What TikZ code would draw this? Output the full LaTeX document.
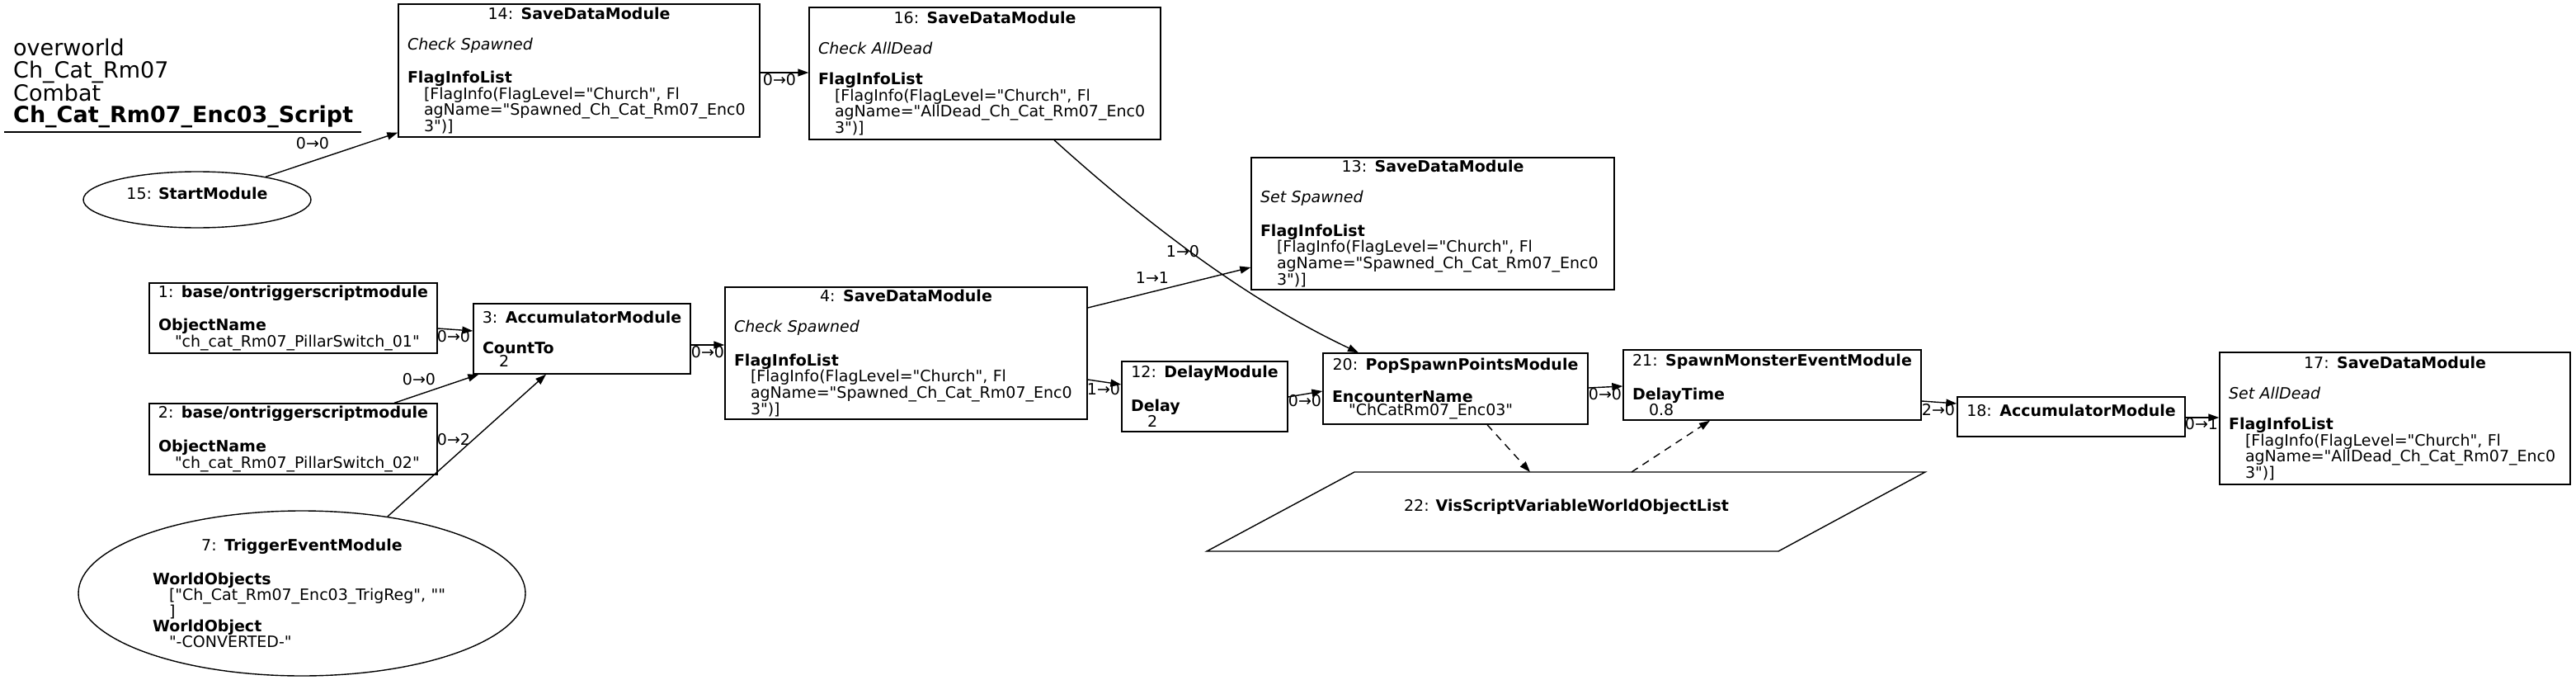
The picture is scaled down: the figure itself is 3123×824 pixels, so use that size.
\documentclass[tikz,border=0pt]{standalone}
\usepackage{fontspec}
\setmainfont{DejaVu Sans}[Ligatures=TeXOff]
\usetikzlibrary{arrows.meta,shapes.geometric}
\newcommand{\modhead}[2]{\makebox[\linewidth][c]{#1: \textbf{#2}}}
\newcommand{\valind}{\hspace*{20pt}}

\begin{document}
\begin{tikzpicture}[x=1pt, y=-1pt,
  module/.style={draw, line width=1.4pt, rectangle, inner xsep=11pt, inner ysep=2pt, align=left, font=\fontsize{19}{16}\selectfont},
  startnode/.style={draw, line width=1.4pt, ellipse, inner sep=0pt, align=center, font=\fontsize{19}{16}\selectfont},
  plain/.style={inner sep=0pt, align=center, font=\fontsize{19}{16}\selectfont},
  elabel/.style={inner sep=0pt, font=\fontsize{19}{16}\selectfont},
  arr/.style={-{Triangle[length=13pt,width=9pt]}, line width=1.4pt},
  varlink/.style={arr, dash pattern=on 9pt off 7pt}
]
  \useasboundingbox (0,0) rectangle (3123,824);

  \node[anchor=north west, inner sep=0pt, align=left, font=\fontsize{27}{26.5}\selectfont] (graphtitle) at (16,47)
    {overworld\\Ch\_Cat\_Rm07\\Combat\\\textbf{Ch\_Cat\_Rm07\_Enc03\_Script}};
  \draw[line width=1.4pt] (5,160) -- (438,160);

  \node[startnode, minimum width=276pt, minimum height=68pt] (n15) at (239,242) {15: \textbf{StartModule}\\~};
  \node[module, text width=416pt, minimum height=161pt] (n14) at (702,85.5) {\modhead{14}{SaveDataModule}\\[21pt]
    \textit{Check Spawned}\\[21pt]
    \textbf{FlagInfoList}\\
    \valind[FlagInfo(FlagLevel="Church", Fl\\
    \valind agName="Spawned\_Ch\_Cat\_Rm07\_Enc0\\
    \valind 3")]};
  \node[module, text width=404pt, minimum height=160pt] (n16) at (1194,89) {\modhead{16}{SaveDataModule}\\[21pt]
    \textit{Check AllDead}\\[21pt]
    \textbf{FlagInfoList}\\
    \valind[FlagInfo(FlagLevel="Church", Fl\\
    \valind agName="AllDead\_Ch\_Cat\_Rm07\_Enc0\\
    \valind 3")]};
  \node[module, text width=418pt, minimum height=160pt] (n13) at (1737,271) {\modhead{13}{SaveDataModule}\\[21pt]
    \textit{Set Spawned}\\[21pt]
    \textbf{FlagInfoList}\\
    \valind[FlagInfo(FlagLevel="Church", Fl\\
    \valind agName="Spawned\_Ch\_Cat\_Rm07\_Enc0\\
    \valind 3")]};
  \node[module, text width=327pt, minimum height=85pt] (n1) at (355.5,385.5) {\modhead{1}{base/ontriggerscriptmodule}\\[21pt]
    \textbf{ObjectName}\\
    \valind"ch\_cat\_Rm07\_PillarSwitch\_01"};
  \node[module, text width=327pt, minimum height=86pt] (n2) at (355.5,532) {\modhead{2}{base/ontriggerscriptmodule}\\[21pt]
    \textbf{ObjectName}\\
    \valind"ch\_cat\_Rm07\_PillarSwitch\_02"};
  \node[module, text width=241pt, minimum height=85pt] (n3) at (705.5,410.5) {\modhead{3}{AccumulatorModule}\\[21pt]
    \textbf{CountTo}\\
    \valind 2};
  \node[module, text width=417pt, minimum height=160pt] (n4) at (1098.5,428) {\modhead{4}{SaveDataModule}\\[21pt]
    \textit{Check Spawned}\\[21pt]
    \textbf{FlagInfoList}\\
    \valind[FlagInfo(FlagLevel="Church", Fl\\
    \valind agName="Spawned\_Ch\_Cat\_Rm07\_Enc0\\
    \valind 3")]};
  \node[module, text width=179pt, minimum height=85pt] (n12) at (1460.5,480.5) {\modhead{12}{DelayModule}\\[21pt]
    \textbf{Delay}\\
    \valind 2};
  \node[module, text width=299pt, minimum height=86pt] (n20) at (1764.5,471) {\modhead{20}{PopSpawnPointsModule}\\[21pt]
    \textbf{EncounterName}\\
    \valind"ChCatRm07\_Enc03"};
  \node[module, text width=339pt, minimum height=85pt] (n21) at (2148.5,466.5) {\modhead{21}{SpawnMonsterEventModule}\\[21pt]
    \textbf{DelayTime}\\
    \valind 0.8};
  \node[module, text width=254pt, minimum height=48pt] (n18) at (2511,505) {\modhead{18}{AccumulatorModule}\\~};
  \node[module, text width=403pt, minimum height=160pt] (n17) at (2903.5,507) {\modhead{17}{SaveDataModule}\\[21pt]
    \textit{Set AllDead}\\[21pt]
    \textbf{FlagInfoList}\\
    \valind[FlagInfo(FlagLevel="Church", Fl\\
    \valind agName="AllDead\_Ch\_Cat\_Rm07\_Enc0\\
    \valind 3")]};
  \node[startnode, align=left, text width=362pt, minimum width=542pt, minimum height=200pt] (n7) at (366,719) {\modhead{7}{TriggerEventModule}\\[21pt]
    \textbf{WorldObjects}\\
    \valind["Ch\_Cat\_Rm07\_Enc03\_TrigReg", ""\\
    \valind]\\
    \textbf{WorldObject}\\
    \valind"-CONVERTED-"};

  \node[plain] (v22) at (1899,620) {22: \textbf{VisScriptVariableWorldObjectList}\\~};
  \draw[line width=1.4pt] (1642,572) -- (2334,572) -- (2156,668) -- (1463,668) -- cycle;
  \coordinate (v22in) at (1855,572);
  \coordinate (v22out) at (1978,572);

  \draw[arr] (n15) -- ([yshift=6pt]n14.south west);
  \draw[arr] ([yshift=-2.5pt]n14.east) -- ([yshift=1pt]n16.west);
  \draw[arr] ([xshift=84pt]n16.south) .. controls (1398,278) and (1517,366) .. ([xshift=-117.5pt]n20.north);
  \draw[arr] ([yshift=-12.5pt]n1.east) -- ([yshift=9.5pt]n3.west);
  \draw[arr] ([xshift=122.5pt]n2.north) -- ([xshift=7pt]n3.south west);
  \draw[arr] (n7) -- ([xshift=-43.5pt]n3.south);
  \draw[arr] ([yshift=-7.5pt]n3.east) -- ([yshift=10pt]n4.west);
  \draw[arr] ([yshift=55pt]n4.east) -- ([yshift=-53pt]n13.west);
  \draw[arr] ([yshift=-32pt]n4.east) -- ([yshift=14.5pt]n12.west);
  \draw[arr] ([yshift=-0.5pt]n12.east) -- ([yshift=-3pt]n20.west);
  \draw[arr] ([yshift=1pt]n20.east) -- ([yshift=-1.5pt]n21.west);
  \draw[arr] ([yshift=-19.5pt]n21.east) -- ([yshift=16pt]n18.west);
  \draw[arr] ([yshift=-1pt]n18.east) -- ([yshift=1pt]n17.west);
  \draw[varlink] ([xshift=38.5pt]n20.south) -- (v22in);
  \draw[varlink] (v22out) -- ([xshift=-75.5pt]n21.south);

  \node[elabel] (l15) at (379,174) {0→0};
  \node[elabel] (l14) at (945,97) {0→0};
  \node[elabel] (l16) at (1434,305) {1→0};
  \node[elabel] (l1) at (550,408) {0→0};
  \node[elabel] (l2) at (508,460) {0→0};
  \node[elabel] (l7) at (550,533) {0→2};
  \node[elabel] (l3) at (858,427) {0→0};
  \node[elabel] (l4a) at (1397,337) {1→1};
  \node[elabel] (l4b) at (1338,472) {1→0};
  \node[elabel] (l12) at (1582,486) {0→0};
  \node[elabel] (l20) at (1946,478) {0→0};
  \node[elabel] (l21) at (2350,497) {2→0};
  \node[elabel] (l18) at (2669,514) {0→1};
\end{tikzpicture}
\end{document}
